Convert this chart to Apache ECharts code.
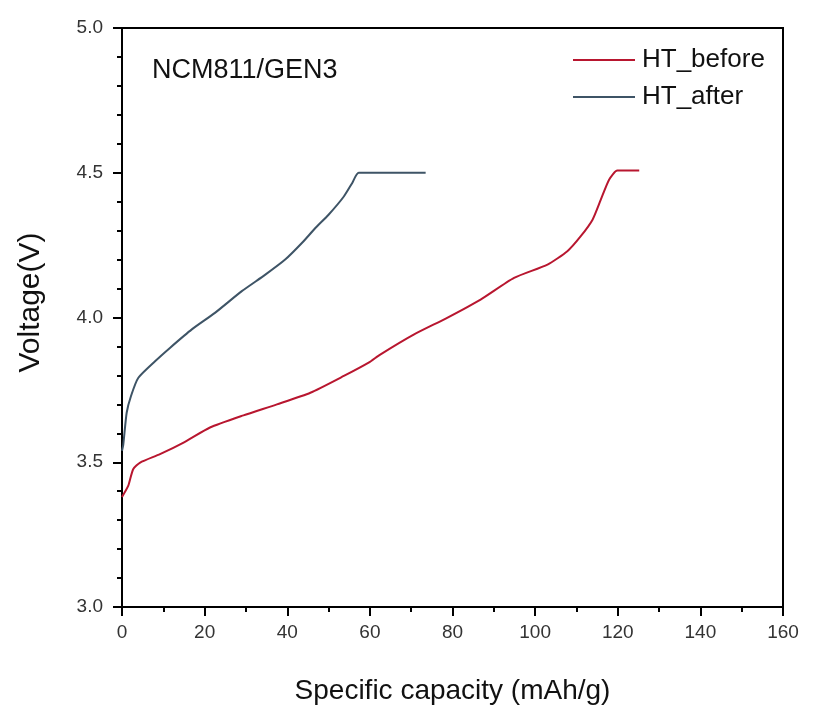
<!DOCTYPE html>
<html>
<head>
<meta charset="utf-8">
<script src="https://cdn.jsdelivr.net/npm/echarts@6/dist/echarts.min.js"></script>
<style>html,body{margin:0;padding:0;background:#fff;}#c{width:813px;height:710px;}</style>
</head>
<body>
<div id="c"></div>
<script>
const seriesNames = ['HT_before', 'HT_after'];
const htBeforeCap = [0, 1.5, 2.7, 4.4, 9.2, 14.9, 21.3, 29.4, 37.5, 45.6, 53.7, 59.7, 62.5, 70.6, 78.7, 86.8, 94.9, 103.0, 107.8, 111.0, 113.9, 115.9, 117.9, 119.9, 125.2];
const htBeforeV   = [3.38, 3.418, 3.476, 3.499, 3.528, 3.568, 3.62, 3.662, 3.70, 3.74, 3.798, 3.844, 3.872, 3.941, 3.999, 4.062, 4.137, 4.183, 4.229, 4.28, 4.338, 4.407, 4.476, 4.508, 4.508];
const htAfterCap  = [0, 0.3, 1.13, 2.18, 3.96, 8.0, 11.6, 16.9, 22.5, 29.0, 34.7, 39.5, 43.6, 46.8, 50.0, 53.7, 55.7, 57.3, 73.5];
const htAfterV    = [3.54, 3.56, 3.671, 3.729, 3.792, 3.849, 3.895, 3.959, 4.016, 4.091, 4.148, 4.20, 4.258, 4.309, 4.355, 4.418, 4.464, 4.50, 4.50];
const xTicks = [0, 20, 40, 60, 80, 100, 120, 140, 160];
const yTicks = [3.0, 3.5, 4.0, 4.5, 5.0];
const annotation = 'NCM811/GEN3';
const xName = 'Specific capacity (mAh/g)';
const yName = 'Voltage(V)';

const zip = (a, b) => a.map((v, i) => [v, b[i]]);
const FONT = '"Liberation Sans", Arial, sans-serif';
const chart = echarts.init(document.getElementById('c'), null, {renderer: 'canvas'});
chart.setOption({
  backgroundColor: '#fff',
  animation: false,
  grid: {left: 122, right: 30, top: 28, bottom: 103, show: true, borderColor: '#000', borderWidth: 2},
  title: {text: annotation, left: 152, top: 57, padding: 0, textStyle: {fontFamily: FONT, fontSize: 27, fontWeight: 'normal', color: '#111'}},
  legend: {
    data: seriesNames, orient: 'vertical', left: 573, top: 47, padding: 0, itemWidth: 62, itemHeight: 2, itemGap: 11,
    icon: 'rect', textStyle: {fontFamily: FONT, fontSize: 26, color: '#111', padding: [0, 0, 0, 2]}
  },
  xAxis: {
    type: 'value', min: xTicks[0], max: xTicks[xTicks.length - 1], interval: 20,
    name: xName, nameLocation: 'middle', nameGap: 70,
    nameTextStyle: {fontFamily: FONT, fontSize: 28, color: '#111'},
    axisLine: {lineStyle: {color: '#000', width: 2}},
    axisTick: {show: true, inside: false, length: 9, lineStyle: {color: '#000', width: 2}},
    minorTick: {show: true, splitNumber: 2, length: 5, lineStyle: {color: '#000', width: 2}},
    splitLine: {show: false},
    axisLabel: {margin: 16, fontFamily: FONT, fontSize: 19, color: '#333'}
  },
  yAxis: {
    type: 'value', min: yTicks[0], max: yTicks[yTicks.length - 1], interval: 0.5,
    name: yName, nameLocation: 'middle', nameGap: 76,
    nameTextStyle: {fontFamily: FONT, fontSize: 30, color: '#111', padding: [0, 0, 0, 30]},
    axisLine: {lineStyle: {color: '#000', width: 2}},
    axisTick: {show: true, inside: false, length: 9, lineStyle: {color: '#000', width: 2}},
    minorTick: {show: true, splitNumber: 5, length: 5, lineStyle: {color: '#000', width: 2}},
    splitLine: {show: false},
    axisLabel: {margin: 19, fontFamily: FONT, fontSize: 19, color: '#333', formatter: v => v.toFixed(1)}
  },
  series: [
    {name: seriesNames[0], type: 'line', data: zip(htBeforeCap, htBeforeV), showSymbol: false, symbol: 'none', smooth: 0.2,
     lineStyle: {color: '#b8162f', width: 2}, itemStyle: {color: '#b8162f'}},
    {name: seriesNames[1], type: 'line', data: zip(htAfterCap, htAfterV), showSymbol: false, symbol: 'none', smooth: 0.2,
     lineStyle: {color: '#3e5466', width: 2}, itemStyle: {color: '#3e5466'}}
  ]
});
</script>
</body>
</html>
